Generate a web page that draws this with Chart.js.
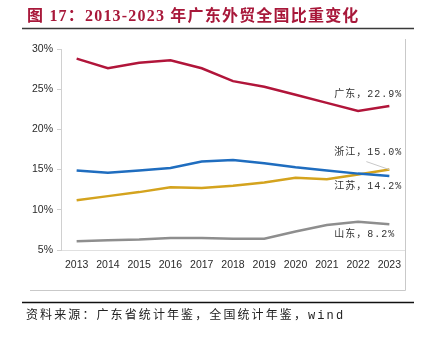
<!DOCTYPE html>
<html>
<head>
<meta charset="utf-8">
<script src="https://cdn.jsdelivr.net/npm/chart.js@4"></script>
<style>
  html, body { margin: 0; padding: 0; background: #fff; }
  #wrap { position: relative; width: 424px; height: 337px; }
</style>
</head>
<body>
<div id="wrap"><canvas id="trade-chart" width="424" height="337"></canvas></div>
<script>
// 2013-2023 各省外贸占全国比重 (%)
const years = ["2013", "2014", "2015", "2016", "2017", "2018", "2019", "2020", "2021", "2022", "2023"];
const guangdong = [28.8, 27.6, 28.3, 28.6, 27.6, 26.0, 25.3, 24.3, 23.3, 22.3, 22.9];
const jiangsu   = [14.9, 14.6, 14.9, 15.2, 16.0, 16.2, 15.8, 15.3, 14.9, 14.5, 14.2];
const zhejiang  = [11.2, 11.7, 12.2, 12.8, 12.7, 13.0, 13.4, 14.0, 13.8, 14.4, 15.0];
const shandong  = [6.1, 6.2, 6.3, 6.5, 6.5, 6.4, 6.4, 7.3, 8.1, 8.5, 8.2];

const seriesNames = ["广东", "江苏", "浙江", "山东"];
const seriesColors = ["#b1153a", "#1f6dbf", "#d4a31e", "#8e8e8e"];

const titleText = "图 17：2013-2023 年广东外贸全国比重变化";
const sourceText = "资料来源：广东省统计年鉴，全国统计年鉴，wind";

// end labels: [dataset index, dx, dy]
const endLabels = [
  [0, -55, -12],
  [2, -55, -17],
  [1, -55, 10],
  [3, -55, 10]
];

const decor = {
  id: "decor",
  afterDraw(chart) {
    const ctx = chart.ctx;
    ctx.save();

    // title
    ctx.fillStyle = "#a8183a";
    ctx.font = "bold 16px 'Liberation Serif', 'Noto Sans CJK SC'";
    ctx.letterSpacing = "1.2px";
    ctx.textBaseline = "middle";
    ctx.textAlign = "left";
    ctx.fillText(titleText, 27, 16.5);
    ctx.letterSpacing = "0px";

    ctx.strokeStyle = "#3a3a3a";
    ctx.lineWidth = 1.5;
    ctx.beginPath();
    ctx.moveTo(22, 28.5);
    ctx.lineTo(414, 28.5);
    ctx.stroke();

    // frame around plot (right and bottom)
    ctx.strokeStyle = "#c9c9c9";
    ctx.lineWidth = 1;
    ctx.beginPath();
    ctx.moveTo(405.5, 39);
    ctx.lineTo(405.5, 290.5);
    ctx.lineTo(30, 290.5);
    ctx.stroke();

    // end labels
    ctx.font = "10px 'Liberation Mono', 'Noto Sans CJK SC'";
    ctx.letterSpacing = "1px";
    ctx.fillStyle = "#333";
    endLabels.forEach(([i, dx, dy]) => {
      const pts = chart.getDatasetMeta(i).data;
      const p = pts[pts.length - 1];
      const vals = chart.data.datasets[i].data;
      const txt = seriesNames[i] + "，" + vals[vals.length - 1].toFixed(1) + "%";
      ctx.fillText(txt, p.x + dx, p.y + dy);
    });
    ctx.letterSpacing = "0px";

    // leader line for 浙江
    const zp = chart.getDatasetMeta(2).data;
    const z = zp[zp.length - 1];
    ctx.strokeStyle = "#c8c8c8";
    ctx.lineWidth = 1;
    ctx.beginPath();
    ctx.moveTo(z.x - 23, z.y - 8);
    ctx.lineTo(z.x, z.y);
    ctx.stroke();

    // source
    ctx.strokeStyle = "#111";
    ctx.lineWidth = 1.5;
    ctx.beginPath();
    ctx.moveTo(22, 302.5);
    ctx.lineTo(414, 302.5);
    ctx.stroke();

    ctx.fillStyle = "#222";
    ctx.font = "12px 'Liberation Mono', 'Noto Sans CJK SC'";
    ctx.letterSpacing = "2.1px";
    ctx.fillText(sourceText, 26, 315.5);
    ctx.restore();
  }
};

new Chart(document.getElementById("trade-chart"), {
  type: "line",
  data: {
    labels: years,
    datasets: [guangdong, jiangsu, zhejiang, shandong].map((d, i) => ({
      label: seriesNames[i],
      data: d,
      borderColor: seriesColors[i],
      backgroundColor: seriesColors[i],
      borderWidth: 2.5,
      tension: 0,
      pointRadius: 0,
      fill: false
    }))
  },
  options: {
    responsive: false,
    animation: false,
    layout: { padding: { top: 49, right: 19, bottom: 47, left: 0 } },
    plugins: {
      legend: { display: false },
      tooltip: { enabled: false }
    },
    scales: {
      x: {
        offset: true,
        grid: { display: false, drawTicks: false },
        border: { display: true, color: "#e0e0e0", width: 1 },
        ticks: {
          padding: 9,
          color: "#2a2a2a",
          font: { family: "'Liberation Sans', Arial", size: 10.5 },
          maxRotation: 0,
          autoSkip: false
        },
        afterFit(scale) { scale.height = 40; }
      },
      y: {
        min: 5,
        max: 30,
        grid: { display: true, drawOnChartArea: false, drawTicks: true, tickLength: 4, color: "#d0d0d0" },
        border: { display: true, color: "#d0d0d0", width: 1 },
        ticks: {
          stepSize: 5,
          padding: 4,
          color: "#2a2a2a",
          font: { family: "'Liberation Sans', Arial", size: 10.5 },
          callback: v => v + "%"
        },
        afterFit(scale) { scale.width = 61; }
      }
    }
  },
  plugins: [decor]
});
</script>
</body>
</html>
